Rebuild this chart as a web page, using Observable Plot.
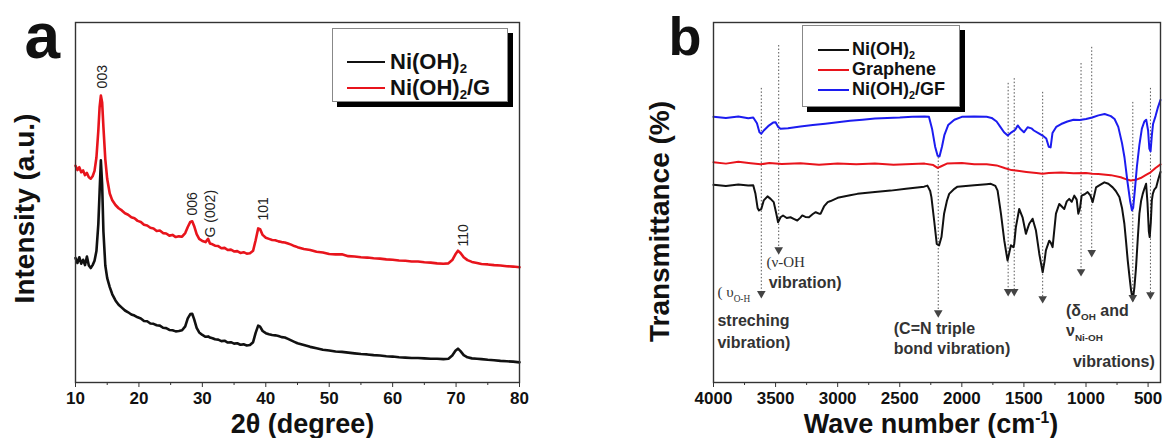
<!DOCTYPE html>
<html>
<head>
<meta charset="utf-8">
<script src="https://cdn.jsdelivr.net/npm/d3@7"></script>
<script src="https://cdn.jsdelivr.net/npm/@observablehq/plot@0.6"></script>
<style>
  body { margin: 0; background: #fff; }
  #fig { position: relative; width: 1165px; height: 438px; overflow: hidden; background: #fff;
         font-family: "Liberation Sans", Arial, Helvetica, sans-serif; }
  #fig svg { position: absolute; top: 0; }
  .legend { position: absolute; background: #fff; border: 1px solid #888; box-shadow: 5px 5px 0 #000; box-sizing: border-box; }
</style>
</head>
<body>
<div id="fig"></div>
<script>
// ---------------- Panel a : XRD ----------------
const xrd2theta = [10.0,10.3,10.6,10.9,11.2,11.5,11.8,12.1,12.4,12.7,13.0,13.3,13.6,13.8,14.0,14.2,14.4,14.7,15.0,15.4,
  15.8,16.3,16.8,17.3,17.8,18.3,18.8,19.3,19.8,20.3,20.8,21.3,21.8,22.3,22.8,23.3,23.8,24.3,24.8,25.3,25.8,26.3,26.8,
  27.3,27.7,28.1,28.4,28.7,29.1,29.5,30.0,30.5,30.9,31.2,31.6,
  32.0,32.5,33.0,33.5,34.0,34.5,35.0,35.5,36.0,36.5,37.0,37.5,38.0,
  38.4,38.8,39.1,39.5,
  40.0,40.5,41.0,41.5,42.0,42.5,43.0,43.5,44.0,44.5,45.0,
  46,47,48,49,50,51,52,53,54,55,56,57,58,59,60,61,62,63,64,65,66,67,68,
  68.8,69.4,69.9,70.3,70.7,71.2,71.8,72.5,73.3,
  74,75,76,77,78,79,80];
const xrdNiOH2G = [60.2,59.0,59.8,58.4,58.9,57.6,58.2,57.0,56.6,57.3,58.8,62.5,70.0,76.5,79.7,77.8,71.0,62.0,56.5,52.5,
  50.6,49.3,48.4,47.8,47.0,46.6,45.9,45.6,44.9,44.6,43.8,43.6,43.0,42.8,42.1,42.2,41.5,41.4,40.8,41.0,40.4,40.6,40.5,
  41.5,43.2,44.6,44.8,43.5,41.2,39.9,39.3,39.0,39.9,38.6,38.4,
  38.0,37.9,37.3,37.4,36.8,36.9,36.4,36.5,36.0,36.2,35.8,35.9,36.6,
  39.5,42.8,42.6,41.0,
  40.2,39.9,39.6,39.5,39.2,39.0,38.9,38.6,38.3,37.9,37.6,
  37.1,36.8,36.3,36.1,35.7,35.6,35.6,35.1,35.0,34.8,34.7,34.5,34.4,34.2,34.1,33.9,33.8,33.6,33.6,33.4,33.3,33.1,33.0,
  33.1,34.0,35.6,36.6,36.0,34.8,34.0,33.5,33.2,
  32.9,32.8,32.6,32.5,32.3,32.2,32.0];
const xrdNiOH2 = [34.6,33.2,34.8,33.0,34.1,32.6,35.0,32.5,31.8,32.6,33.8,36.5,44.0,53.0,61.7,55.0,42.0,32.5,29.0,26.5,
  24.5,22.8,21.6,20.8,20.0,19.5,18.9,18.6,18.1,17.8,17.1,17.0,16.4,16.3,15.9,15.8,15.2,15.1,14.6,14.5,14.2,14.3,14.5,
  15.6,17.8,19.0,19.1,17.6,15.2,13.9,13.2,12.7,12.8,12.5,12.3,
  12.0,11.9,11.5,11.6,11.1,11.2,10.8,10.9,10.5,10.6,10.3,10.4,11.2,
  13.8,15.8,15.5,14.3,
  13.7,13.4,13.2,13.1,12.9,12.6,12.5,12.1,11.7,11.3,10.9,
  10.4,9.9,9.5,9.1,8.9,8.6,8.5,8.3,8.1,7.9,7.8,7.6,7.5,7.3,7.2,7.0,6.9,6.8,6.8,6.7,6.6,6.6,6.5,
  6.6,7.5,8.8,9.4,8.7,7.6,7.0,6.7,6.6,
  6.5,6.3,6.2,6.0,5.9,5.8,5.6];
const xrdMajorTicks = [10,20,30,40,50,60,70,80];
const xrdMinorTicks = [15,25,35,45,55,65,75];
const xrdSeries = ["Ni(OH)_{2}", "Ni(OH)_{2}/G"];
const peakLabels = ["003", "006", "G (002)", "101", "110"];
const peakLabelTheta = [14.2, 28.4, 31.3, 39.6, 71.2];
const peakLabelLevel = [81.7, 46.4, 40.3, 45.0, 37.8];

// ---------------- Panel b : FTIR ----------------
const ftirWnGF = [4000,3900,3800,3720,3680,3650,3630,3615,3595,3560,3520,3500,3480,3460,3400,3300,3200,3100,3000,2900,
  2800,2700,2600,2500,2400,2300,2265,2240,2215,2195,2180,2160,2140,2110,2060,2000,1900,1800,1760,1720,
  1690,1660,1630,1600,1570,1550,1530,1500,1470,1440,1420,1380,1350,1320,1300,1285,1270,1240,1200,1150,
  1100,1050,1000,950,900,850,800,770,740,710,690,665,645,630,620,605,590,570,550,530,
  515,500,490,480,470,460,440,420,400];
const ftirTGF = [73.8,73.5,73.9,73.4,73.6,72.0,69.5,69.1,70.0,71.2,72.2,72.3,71.0,70.5,70.6,71.1,71.5,71.9,72.3,72.7,
  73.0,73.3,73.5,73.6,73.8,73.9,73.8,70.5,65.5,63.0,62.8,65.5,68.8,71.5,73.0,73.8,73.9,73.8,73.5,72.5,
  71.0,69.5,68.6,69.5,70.2,71.4,70.5,69.5,70.9,70.6,70.0,69.2,68.6,67.8,65.5,65.3,69.3,71.0,71.8,72.5,
  73.0,72.9,73.2,73.6,74.2,74.6,74.0,73.2,71.0,66.5,62.5,55.5,50.5,47.8,48.5,54.0,60.0,66.0,70.5,72.5,
  73.0,70.0,65.0,64.2,68.5,71.8,74.0,76.5,78.5];
const ftirWnGraphene = [4000,3900,3800,3700,3620,3550,3450,3300,3150,3000,2850,2700,2550,2400,2300,2230,2195,2170,2120,2000,
  1900,1800,1720,1650,1600,1550,1480,1400,1350,1300,1200,1100,1000,950,900,800,720,680,640,600,560,520,480,440,400];
const ftirTGraphene = [61.2,60.8,61.3,60.9,60.6,61.0,60.7,60.9,60.5,60.8,60.6,60.8,60.5,60.7,60.8,60.4,59.6,60.0,60.8,61.0,
  60.6,60.6,60.3,59.5,59.0,58.8,58.5,58.2,58.0,58.2,58.3,58.1,58.2,58.0,57.9,57.6,57.0,56.5,56.1,56.3,56.8,57.6,58.4,59.6,60.6];
const ftirWnNiOH2 = [4000,3900,3800,3720,3680,3662,3645,3634,3615,3595,3565,3540,3515,3495,3480,3460,3440,3410,3380,3350,
  3325,3300,3285,3260,3231,3200,3177,3150,3137,3110,3080,3057,3000,2900,2841,2700,2573,2450,2304,2277,
  2255,2245,2223,2202,2183,2164,2143,2120,2102,2060,2035,1900,1800,1766,1730,1712,1685,1658,1632,1615,
  1605,1585,1578,1565,1538,1511,1484,1470,1457,1430,1403,1376,1349,1335,1323,1296,1283,1269,1242,1215,
  1195,1175,1155,1135,1115,1094,1075,1062,1048,1035,1010,987,965,946,930,919,890,852,820,785,
  760,731,710,691,677,664,650,637,623,610,597,583,570,556,543,530,516,505,494,487,
  478,470,462,450,435,420,400];
const ftirTNiOH2 = [54.9,54.6,55.0,54.7,54.8,52.4,48.5,47.8,48.2,50.6,51.7,51.0,50.1,47.0,44.5,45.9,46.4,45.7,45.9,45.4,
  45.0,45.8,46.4,46.0,45.9,46.8,47.3,46.9,46.9,48.9,50.1,50.4,51.3,52.0,52.4,52.9,53.3,53.8,54.4,54.7,
  53.2,51.5,45.0,38.5,38.1,40.4,46.9,50.5,52.4,53.8,54.4,54.8,55.1,55.2,54.6,53.3,46.9,39.4,33.9,36.5,
  38.1,37.6,38.5,43.1,48.2,45.9,41.3,42.8,44.1,45.5,42.2,35.7,30.6,33.5,36.7,39.4,38.8,37.6,46.9,49.6,
  48.9,48.2,50.3,51.0,50.2,51.9,50.8,46.9,48.5,51.9,52.3,52.9,52.0,50.1,52.5,54.2,54.8,55.6,55.2,54.2,
  53.2,51.5,48.5,44.1,39.0,33.9,29.5,25.6,22.8,26.5,32.0,40.0,46.9,50.5,52.4,53.8,55.2,50.0,42.0,40.4,
  44.5,50.5,52.4,53.6,54.2,56.2,58.5];
const ftirMajorTicks = [4000,3500,3000,2500,2000,1500,1000,500];
const ftirMinorTicks = [3750,3250,2750,2250,1750,1250,750];
const ftirSeries = ["Ni(OH)_{2}", "Graphene", "Ni(OH)_{2}/GF"];
// assignment guide lines (dotted, ending in an arrowhead)
const bandWn = [3615, 3475, 2190, 1627, 1578, 1349, 1040, 954, 623, 481];
const bandTop = [81.7, 93.6, 62.5, 83.1, 84.4, 80.6, 88.6, 93.1, 77.8, 81.7];
const bandEnd = [24.7, 36.9, 19.4, 25.3, 25.3, 23.3, 30.8, 36.1, 23.6, 24.4];
// band annotations
const noteSerif = ["( υ_{O-H}", "(ν-OH"];
const noteSerifWn = [3968, 3573];
const noteSerifLevel = [25.0, 33.3];
const noteBold = ["streching", "vibration)", "vibration)", "(C=N triple", "bond vibration)", "(δ_{OH} and", "ν_{Ni-OH}", "vibrations)"];
const noteBoldWn = [3968, 3968, 3556, 2548, 2548, 1161, 1161, 1105];
const noteBoldLevel = [17.2, 11.1, 27.8, 15.0, 9.4, 20.0, 14.4, 5.8];

// ---------------- drawing ----------------
const FONT = "'Liberation Sans', Arial, Helvetica, sans-serif";
const SERIF = "'Liberation Serif', 'DejaVu Serif', serif";
const INK = "#111";
const colA = ["#111111", "#e8141c"];
const colB = ["#111111", "#e8141c", "#1c1cf0"];
const fig = document.getElementById("fig");

const plotA = Plot.plot({
  width: 580, height: 438,
  marginLeft: 75, marginRight: 61, marginTop: 22, marginBottom: 56,
  x: {domain: [10, 80]},
  y: {domain: [0, 100], axis: null},
  style: {fontFamily: FONT, color: INK, background: "transparent", overflow: "visible"},
  marks: [
    Plot.line(xrd2theta, {x: d => d, y: (d, i) => xrdNiOH2G[i], stroke: colA[1], strokeWidth: 2.6}),
    Plot.line(xrd2theta, {x: d => d, y: (d, i) => xrdNiOH2[i], stroke: colA[0], strokeWidth: 2.6}),
    Plot.frame({stroke: "#333", strokeWidth: 1.4}),
    Plot.axisX(xrdMajorTicks, {anchor: "bottom", tickSize: 5, tickPadding: 4, fontSize: 17, fontWeight: "bold",
      tickFormat: d => String(d), label: null, stroke: "#333"}),
    Plot.axisX(xrdMinorTicks, {anchor: "bottom", tickSize: 3, tickFormat: () => "", label: null, stroke: "#333"}),
    Plot.text(peakLabels, {x: (d, i) => peakLabelTheta[i], y: (d, i) => peakLabelLevel[i], text: d => d,
      rotate: -90, textAnchor: "start", lineAnchor: "middle", fontSize: 14, fill: "#222"}),
    Plot.text(["a"], {frameAnchor: "top-left", text: d => d, textAnchor: "start", lineAnchor: "bottom",
      dx: -51, dy: 35, fontSize: 64, fontWeight: "bold", fill: INK}),
    Plot.text(["Intensity (a.u.)"], {frameAnchor: "left", text: d => d, rotate: -90, textAnchor: "middle",
      lineAnchor: "middle", dx: -50, dy: 6, fontSize: 28, fontWeight: "bold", fill: INK}),
    Plot.text(["2θ (degree)"], {frameAnchor: "bottom", text: d => d, textAnchor: "middle",
      lineAnchor: "bottom", dx: 5, dy: 50, fontSize: 27, fontWeight: "bold", fill: INK})
  ]
});
plotA.style.left = "0px";

const plotB = Plot.plot({
  width: 585, height: 438,
  marginLeft: 133, marginRight: 5, marginTop: 22, marginBottom: 56,
  x: {domain: [4000, 400]},
  y: {domain: [0, 100], axis: null},
  style: {fontFamily: FONT, color: INK, background: "transparent", overflow: "visible"},
  marks: [
    Plot.ruleX(bandWn, {x: d => d, y1: (d, i) => bandTop[i], y2: (d, i) => bandEnd[i],
      stroke: "#555", strokeWidth: 1, strokeDasharray: "1.5,2"}),
    Plot.line(ftirWnGraphene, {x: d => d, y: (d, i) => ftirTGraphene[i], stroke: colB[1], strokeWidth: 2}),
    Plot.line(ftirWnGF, {x: d => d, y: (d, i) => ftirTGF[i], stroke: colB[2], strokeWidth: 2}),
    Plot.line(ftirWnNiOH2, {x: d => d, y: (d, i) => ftirTNiOH2[i], stroke: colB[0], strokeWidth: 2}),
    Plot.dot(bandWn, {x: d => d, y: (d, i) => bandEnd[i], symbol: "triangle", rotate: 180, r: 3.2,
      fill: "#444", stroke: "none"}),
    Plot.frame({stroke: "#333", strokeWidth: 1.4}),
    Plot.axisX(ftirMajorTicks, {anchor: "bottom", tickSize: 5, tickPadding: 4, fontSize: 17, fontWeight: "bold",
      tickFormat: d => String(d), label: null, stroke: "#333"}),
    Plot.axisX(ftirMinorTicks, {anchor: "bottom", tickSize: 3, tickFormat: () => "", label: null, stroke: "#333"}),
    Plot.text(noteSerif, {x: (d, i) => noteSerifWn[i], y: (d, i) => noteSerifLevel[i], text: d => d,
      textAnchor: "start", lineAnchor: "middle", fontSize: 15, fontFamily: SERIF, fill: "#333"}),
    Plot.text(noteBold, {x: (d, i) => noteBoldWn[i], y: (d, i) => noteBoldLevel[i], text: d => d,
      textAnchor: "start", lineAnchor: "middle", fontSize: 16, fontWeight: "bold", fill: "#333"}),
    Plot.text(["b"], {frameAnchor: "top-left", text: d => d, textAnchor: "start", lineAnchor: "bottom",
      dx: -45, dy: 32, fontSize: 54, fontWeight: "bold", fill: INK}),
    Plot.text(["Transmittance (%)"], {frameAnchor: "left", text: d => d, rotate: -90, textAnchor: "middle",
      lineAnchor: "middle", dx: -53, dy: 19, fontSize: 28, fontWeight: "bold", fill: INK}),
    Plot.text(["Wave number (cm^{-1})"], {frameAnchor: "bottom", text: d => d, textAnchor: "middle",
      lineAnchor: "bottom", dx: -6, dy: 50, fontSize: 27, fontWeight: "bold", fill: INK})
  ]
});
plotB.style.left = "580px";

fig.appendChild(plotA);
fig.appendChild(plotB);

// turn _{..} / ^{..} markup into real sub/superscript tspans
function richify(svg) {
  svg.querySelectorAll("text").forEach(t => {
    const s = t.textContent;
    if (!/[_^]\{/.test(s)) return;
    const fs = parseFloat(getComputedStyle(t).fontSize) || 16;
    const re = /([_^])\{([^}]*)\}/g;
    const parts = []; let last = 0, m;
    while ((m = re.exec(s))) {
      if (m.index > last) parts.push(["", s.slice(last, m.index)]);
      parts.push([m[1], m[2]]);
      last = re.lastIndex;
    }
    if (last < s.length) parts.push(["", s.slice(last)]);
    t.textContent = "";
    let cur = 0;
    for (const [k, txt] of parts) {
      const ts = document.createElementNS("http://www.w3.org/2000/svg", "tspan");
      const off = k === "_" ? 0.3 * fs : k === "^" ? -0.34 * fs : 0;
      ts.setAttribute("dy", (off - cur).toFixed(2));
      cur = off;
      if (k) ts.setAttribute("font-size", ((k === "^" ? 0.58 : 0.62) * fs).toFixed(1));
      ts.textContent = txt;
      t.appendChild(ts);
    }
  });
}
richify(plotA);
richify(plotB);

// legends (boxed, with drop shadow)
function legend(names, colors, box) {
  const el = document.createElement("div");
  el.className = "legend";
  Object.assign(el.style, {left: box.left + "px", top: box.top + "px", width: box.width + "px", height: box.height + "px"});
  names.forEach((n, i) => {
    const c = box.centers[i];
    const sw = document.createElement("div");
    Object.assign(sw.style, {position: "absolute", left: box.swL + "px", width: box.swW + "px",
      top: (c - box.thick / 2) + "px", height: box.thick + "px", background: colors[i]});
    const tx = document.createElement("div");
    Object.assign(tx.style, {position: "absolute", left: box.txL + "px", top: (c - box.fs * 0.6) + "px",
      lineHeight: (box.fs * 1.2) + "px", fontSize: box.fs + "px", fontWeight: "bold", whiteSpace: "nowrap", color: INK});
    tx.innerHTML = n.replace(/_\{([^}]*)\}/g, '<span style="font-size:0.6em;position:relative;top:0.35em">$1</span>');
    el.append(sw, tx);
  });
  fig.appendChild(el);
}
legend(xrdSeries, colA, {left: 332, top: 28, width: 176, height: 74, centers: [33, 59], swL: 14, swW: 38, txL: 57, fs: 22, thick: 2.6});
legend(ftirSeries, colB, {left: 802, top: 25, width: 158, height: 82, centers: [24, 44, 64], swL: 15, swW: 31, txL: 49, fs: 18, thick: 2});
</script>
</body>
</html>
